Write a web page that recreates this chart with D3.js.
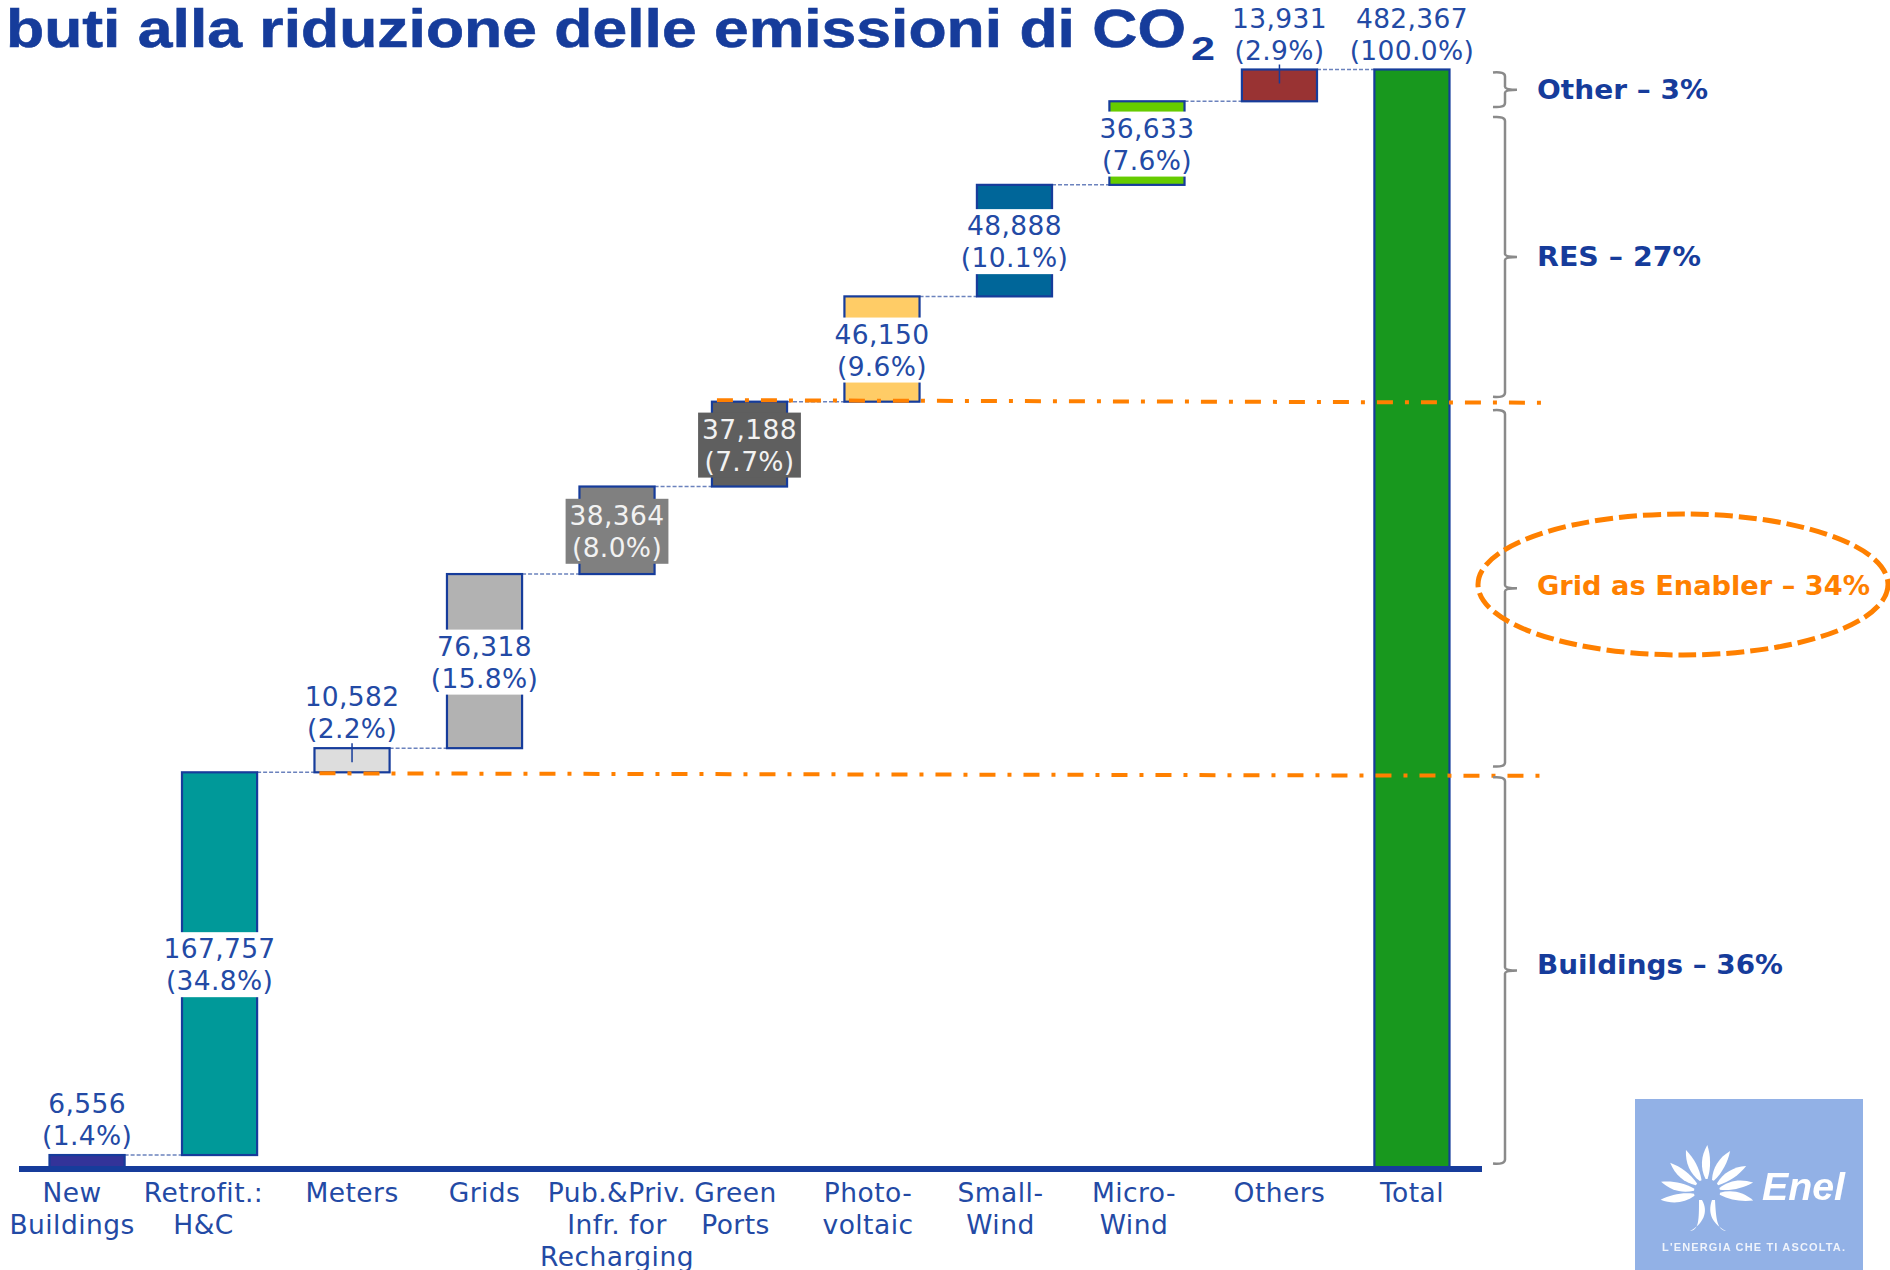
<!DOCTYPE html>
<html>
<head>
<meta charset="utf-8">
<script src="https://d3js.org/d3.v7.min.js"></script>
<style>
    html, body { margin: 0; padding: 0; background: #fff; overflow: hidden; }
    svg { display: block; }
    text { font-family: 'DejaVu Sans', sans-serif; }
</style>
</head>
<body>
<div id="chart"></div>
<script>
// chart values
const categories = ['New Buildings', 'Retrofit.: H&C', 'Meters', 'Grids', 'Pub.&Priv. Infr. for Recharging',
    'Green Ports', 'Photo-voltaic', 'Small-Wind', 'Micro-Wind', 'Others', 'Total'];
const tickLines = [['New', 'Buildings'], ['Retrofit.:', 'H&C'], ['Meters'], ['Grids'],
    ['Pub.&Priv.', 'Infr. for', 'Recharging'], ['Green', 'Ports'], ['Photo-', 'voltaic'],
    ['Small-', 'Wind'], ['Micro-', 'Wind'], ['Others'], ['Total']];
const values = [6556, 167757, 10582, 76318, 38364, 37188, 46150, 48888, 36633, 13931];
const total = 482367;
const percents = ['1.4', '34.8', '2.2', '15.8', '8.0', '7.7', '9.6', '10.1', '7.6', '2.9', '100.0'];
const barColors = ['#333399', '#009999', '#dddddd', '#b2b2b2', '#808080', '#5f5f5f',
    '#ffcc66', '#006699', '#66cc00', '#993333', '#18981e'];

const groupNames = ['Other – 3%', 'RES – 27%', 'Grid as Enabler – 34%', 'Buildings – 36%'];
const groupTops = [481100, 461500, 333000, 172100];
const groupBottoms = [465970, 338900, 176900, 2800];

const blue = '#163c9b';
const textBlue = '#234aa5';
const orange = '#ff8000';
const width = 1890;
const height = 1270;

let svg = d3.select('#chart')
    .append('svg')
    .attr('width', width)
    .attr('height', height);

let x = d3.scaleBand()
    .domain(categories)
    .range([49.5, 1449.5])
    .paddingInner(0.433)
    .paddingOuter(0);

let y = d3.scaleLinear()
    .domain([0, total])
    .range([1170, 69.5]);

// waterfall table
let tops = Array.from(d3.cumsum(values));
let bars = categories.map((c, i) => {
    let isTotal = i === categories.length - 1;
    return {
        name: c,
        value: isTotal ? total : values[i],
        from: isTotal ? 0 : tops[i] - values[i],
        to: isTotal ? total : tops[i],
        pct: percents[i],
        color: barColors[i]
    };
});

// title
svg.append('text')
    .attr('x', 6)
    .attr('y', 47)
    .attr('textLength', 1180)
    .attr('lengthAdjust', 'spacingAndGlyphs')
    .attr('fill', blue)
    .attr('stroke', blue)
    .attr('stroke-width', 0.6)
    .style('font-family', 'Liberation Sans')
    .style('font-weight', 'bold')
    .style('font-size', '53.5px')
    .text('buti alla riduzione delle emissioni di CO');

svg.append('text')
    .attr('x', 1191)
    .attr('y', 60)
    .attr('textLength', 24)
    .attr('lengthAdjust', 'spacingAndGlyphs')
    .attr('fill', blue)
    .style('font-family', 'Liberation Sans')
    .style('font-weight', 'bold')
    .style('font-size', '33px')
    .text('2');

// connectors between the steps
svg.append('g')
    .selectAll('line')
    .data(bars.slice(0, -1))
    .enter()
    .append('line')
    .attr('x1', d => x(d.name) + x.bandwidth())
    .attr('x2', (d, i) => x(categories[i + 1]))
    .attr('y1', d => y(d.to))
    .attr('y2', d => y(d.to))
    .attr('stroke', '#6b82bd')
    .attr('stroke-width', 1.5)
    .attr('stroke-dasharray', '4,2');

// bars
svg.append('g')
    .selectAll('rect')
    .data(bars)
    .enter()
    .append('rect')
    .attr('x', d => x(d.name))
    .attr('y', d => y(d.to))
    .attr('width', x.bandwidth())
    .attr('height', d => y(d.from) - y(d.to))
    .attr('fill', d => d.color)
    .attr('stroke', blue)
    .attr('stroke-width', 2.2);

// value labels: inside the tall bars on a patch, above the short ones
let isAbove = d => d.name === 'Total' || y(d.from) - y(d.to) < 65;
let labels = svg.append('g')
    .selectAll('g')
    .data(bars)
    .enter()
    .append('g')
    .attr('transform', d => {
        let cx = x(d.name) + x.bandwidth() / 2;
        let cy = isAbove(d) ? y(d.to) - 35.5 : (y(d.from) + y(d.to)) / 2 + 1;
        return `translate(${cx},${cy})`;
    });

let darkLabel = d => d.name === 'Green Ports' || d.name.startsWith('Pub');

let labelText = labels.append('text')
    .attr('text-anchor', 'middle')
    .attr('fill', d => darkLabel(d) ? '#f2f2f2' : textBlue)
    .style('font-size', '26.5px')
    .style('letter-spacing', '0.35px');

labelText.append('tspan')
    .attr('x', 0)
    .attr('y', -6.5)
    .text(d => d3.format(',')(d.value));

labelText.append('tspan')
    .attr('x', 0)
    .attr('y', 25.5)
    .text(d => `(${d.pct}%)`);

// patch behind the text, sized from the text
labels.filter(d => !isAbove(d))
    .insert('rect', 'text')
    .each(function(d) {
        let box = this.parentNode.querySelector('text').getBBox();
        d3.select(this)
            .attr('x', box.x - 4)
            .attr('width', box.width + 8)
            .attr('y', -32.5)
            .attr('height', 65)
            .attr('fill', darkLabel(d) ? d.color : '#fff');
    });

// leader ticks on the two short bars
svg.append('g')
    .selectAll('line')
    .data(bars.filter(d => d.name === 'Meters' || d.name === 'Others'))
    .enter()
    .append('line')
    .attr('x1', d => x(d.name) + x.bandwidth() / 2)
    .attr('x2', d => x(d.name) + x.bandwidth() / 2)
    .attr('y1', d => y(d.to) - 5)
    .attr('y2', d => y(d.to) + 14)
    .attr('stroke', blue)
    .attr('stroke-width', 1.5);

// axis
svg.append('line')
    .attr('x1', 19)
    .attr('x2', 1482)
    .attr('y1', 1169)
    .attr('y2', 1169)
    .attr('stroke', blue)
    .attr('stroke-width', 6);

let tickShift = { 'New Buildings': -15, 'Retrofit.: H&C': -16, 'Green Ports': -14,
    'Photo-voltaic': -14, 'Small-Wind': -14, 'Micro-Wind': -13 };

let xAxis = g => g
    .attr('transform', 'translate(0,1172)')
    .call(d3.axisBottom(x).tickSize(0))
    .call(g => g.select('.domain').remove());

let axisG = svg.append('g').call(xAxis);

axisG.selectAll('.tick text')
    .attr('fill', textBlue)
    .style('font-size', '26.5px')
    .style('letter-spacing', '0.45px')
    .style('font-family', "'DejaVu Sans', sans-serif")
    .text(null)
    .selectAll('tspan')
    .data((d, i) => tickLines[i].map(t => ({ t: t, name: d })))
    .enter()
    .append('tspan')
    .attr('x', d => tickShift[d.name] || 0)
    .attr('y', (d, i) => 30 + i * 32)
    .attr('dy', 0)
    .text(d => d.t);

// dash-dot lines at the two step boundaries
let boundaries = [tops[1], tops[5]];
let startAt = ['Meters', 'Green Ports'];
let lineNudge = [1, -1.5];

svg.append('g')
    .selectAll('line')
    .data(boundaries)
    .enter()
    .append('line')
    .attr('x1', (d, i) => x(startAt[i]) + 5)
    .attr('x2', 1542)
    .attr('y1', (d, i) => y(d) + lineNudge[i])
    .attr('y2', (d, i) => y(d) + lineNudge[i] + 2.5)
    .attr('stroke', orange)
    .attr('stroke-width', 4)
    .attr('stroke-dasharray', '16,12,4,12');

// braces on the right
let braceX = 1505;
let brace = (t, b) => {
    let m = (t + b) / 2;
    return `M${braceX - 12},${t} Q${braceX},${t - 1} ${braceX},${t + 4} L${braceX},${m - 3}`
        + ` Q${braceX},${m} ${braceX + 12},${m} Q${braceX},${m} ${braceX},${m + 3}`
        + ` L${braceX},${b - 4} Q${braceX},${b + 1} ${braceX - 12},${b}`;
};

svg.append('g')
    .selectAll('path')
    .data(groupNames)
    .enter()
    .append('path')
    .attr('d', (d, i) => brace(y(groupTops[i]), y(groupBottoms[i])))
    .attr('fill', 'none')
    .attr('stroke', '#8a8a8a')
    .attr('stroke-width', 2.5);

let groupWidths = [171, 164, 333, 246];
let groupDrop = [9, 9, 6.5, 4];

svg.append('g')
    .selectAll('text')
    .data(groupNames)
    .enter()
    .append('text')
    .attr('x', 1537)
    .attr('y', (d, i) => (y(groupTops[i]) + y(groupBottoms[i])) / 2 + groupDrop[i])
    .attr('textLength', (d, i) => groupWidths[i])
    .attr('lengthAdjust', 'spacingAndGlyphs')
    .attr('fill', (d, i) => i === 2 ? orange : blue)
    .style('font-size', '27px')
    .style('font-weight', 'bold')
    .text(d => d);

svg.append('ellipse')
    .attr('cx', 1683)
    .attr('cy', 584.5)
    .attr('rx', 205)
    .attr('ry', 70.5)
    .attr('fill', 'none')
    .attr('stroke', orange)
    .attr('stroke-width', 5)
    .attr('stroke-dasharray', '18,6');

// logo
let defs = svg.append('defs');
defs.append('filter')
    .attr('id', 'soft')
    .append('feGaussianBlur')
    .attr('stdDeviation', 0.6);

svg.append('rect')
    .attr('x', 1635)
    .attr('y', 1099)
    .attr('width', 228)
    .attr('height', 171)
    .attr('fill', '#92b1e6');

let logo = svg.append('g')
    .attr('filter', 'url(#soft)')
    .attr('fill', '#fff');

let sun = logo.append('g')
    .attr('transform', 'translate(1707,1192)');

sun.selectAll('path.petal')
    .data([-102, -80, -54, -29, -2, 27, 54, 76, 98])
    .enter()
    .append('path')
    .attr('class', 'petal')
    .attr('transform', d => `rotate(${d})`)
    .attr('d', 'M-1,-13 C-6,-24 -5,-36 2,-47 C5,-36 5,-24 1,-13 Z');

sun.append('path')
    .attr('d', 'M-5,8 C2,20 -4,32 -17,39 C-8,38 -8,28 -8,8 Z');
sun.append('path')
    .attr('d', 'M5,8 C0,22 6,32 19,39 C10,38 9,26 8,8 Z');

logo.append('text')
    .attr('x', 1762)
    .attr('y', 1200)
    .attr('textLength', 83)
    .attr('lengthAdjust', 'spacingAndGlyphs')
    .style('font-family', 'Liberation Sans')
    .style('font-style', 'italic')
    .style('font-weight', 'bold')
    .style('font-size', '39px')
    .text('Enel');

logo.append('text')
    .attr('x', 1662)
    .attr('y', 1251)
    .attr('textLength', 183)
    .attr('lengthAdjust', 'spacing')
    .attr('opacity', 0.85)
    .style('font-family', 'Liberation Sans')
    .style('font-weight', 'bold')
    .style('font-size', '11px')
    .text("L'ENERGIA CHE TI ASCOLTA.");
</script>
</body>
</html>
